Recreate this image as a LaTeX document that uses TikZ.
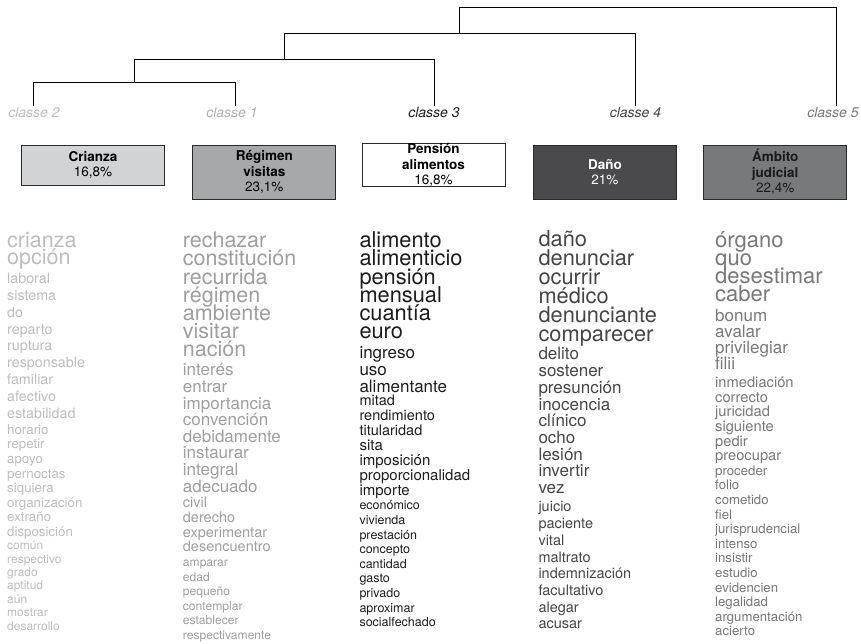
\documentclass[tikz,border=0pt]{standalone}
\usepackage{fontspec}
\setmainfont{TeX Gyre Heros}
\definecolor{colA}{HTML}{BDBDBD}
\definecolor{colB}{HTML}{9E9E9E}
\definecolor{colC}{HTML}{1C1C1C}
\definecolor{colD}{HTML}{454545}
\definecolor{colE}{HTML}{787878}
\definecolor{fillA}{HTML}{D2D3D5}
\definecolor{fillB}{HTML}{A7A8AA}
\definecolor{fillD}{HTML}{4A4A4C}
\definecolor{fillE}{HTML}{78797B}
\definecolor{edge}{HTML}{2A2A2A}
\newcommand\wgroup[7]{%
  \foreach \w [count=\i] in {#7}
    \node[word, text=#6, font=\fontsize{#5}{#5}\selectfont] (#1-\i) at (#2, {#3+(\i-1)*#4}) {\w};}
\begin{document}
\begin{tikzpicture}[x=1pt,y=-1pt,
  word/.style={anchor=mid west, inner sep=0pt},
  tree/.style={line width=1pt, black},
  clabel/.style={font=\fontsize{14}{14}\selectfont\itshape, anchor=mid, inner sep=0pt},
  catbox/.style={draw=edge, line width=0.9pt, minimum width=143pt, align=center,
    font=\fontsize{13.5}{15.5}\selectfont, inner sep=0pt}]
\useasboundingbox (0,0) rectangle (861,644);
% dendrogram
\coordinate (k2) at (33,106);
\coordinate (k1) at (235,106);
\coordinate (k3) at (434,106);
\coordinate (k4) at (635,106);
\coordinate (k5) at (836,106);
\coordinate (s1) at (134,82.7);
\coordinate (s2) at (284,59.3);
\coordinate (s3) at (459.5,33.3);
\coordinate (s4) at (459.5,7.3);
\draw[tree] (k2) -- (33,82.7) -- (235,82.7) -- (k1);
\draw[tree] (s1) -- (134,59.3) -- (434,59.3) -- (k3);
\draw[tree] (s2) -- (284,33.3) -- (635,33.3) -- (k4);
\draw[tree] (s3) -- (s4) -- (836,7.3) -- (k5);
\node[clabel, text=colA] (cl2) at (34,115) {classe 2};
\node[clabel, text=colB!80] (cl1) at (232,115) {classe 1};
\node[clabel, text=colC] (cl3) at (434,115) {classe 3};
\node[clabel, text=colD] (cl4) at (635.5,115) {classe 4};
\node[clabel, text=colE] (cl5) at (833,115) {classe 5};
% boxes
\node[catbox, fill=fillA, minimum height=40pt, text=black] (bx2) at (92.9,165) {{\bfseries Crianza}\\16,8\%};
\node[catbox, fill=fillB, minimum height=54pt, text=black] (bx1) at (264.3,172) {{\bfseries Régimen}\\{\bfseries visitas}\\23,1\%};
\node[catbox, fill=white, minimum height=40pt, text=black] (bx3) at (433.5,165) {{\bfseries Pensión}\\{\bfseries alimentos}\\16,8\%};
\node[catbox, fill=fillD, minimum height=54pt, text=white] (bx4) at (604.9,172) {{\bfseries Daño}\\21\%};
\node[catbox, fill=fillE, minimum height=54pt, text=black!90] (bx5) at (775.2,172) {{\bfseries Ámbito}\\{\bfseries judicial}\\22,4\%};
% column 1
\wgroup{aA}{7}{245}{16.7}{21.5}{colA}{crianza,opción}
\wgroup{aB}{7}{280.7}{16.9}{14.3}{colA}{laboral,sistema,do,reparto,ruptura,responsable,familiar,afectivo,estabilidad}
\wgroup{aC}{7}{431.7}{14.6}{13.3}{colA}{horario,repetir,apoyo,pernoctas,siquiera,organización,extraño,disposición}
\wgroup{aD}{7}{547}{13.45}{12}{colA}{común,respectivo,grado,aptitud,aún,mostrar,desarrollo}
% column 2
\wgroup{bA}{182.7}{245}{18.2}{21.5}{colB}{rechazar,constitución,recurrida,régimen,ambiente,visitar,nación}
\wgroup{bB}{182.7}{373.3}{16.6}{17}{colB}{interés,entrar,importancia,convención,debidamente,instaurar,integral,adecuado}
\wgroup{bC}{182.7}{505}{14.7}{14.5}{colB}{civil,derecho,experimentar,desencuentro}
\wgroup{bD}{182.7}{564}{14.5}{12.1}{colB}{amparar,edad,pequeño,contemplar,establecer,respectivamente}
% column 3
\wgroup{cA}{359.3}{245}{18.2}{21.8}{colC}{alimento,alimenticio,pensión,mensual,cuantía,euro}
\wgroup{cB}{359.3}{356}{17}{17}{colC}{ingreso,uso,alimentante}
\wgroup{cC}{359.3}{403.3}{14.7}{14.5}{colC}{mitad,rendimiento,titularidad}
\wgroup{cD}{359.3}{448.3}{14.8}{15}{colC}{sita,imposición,proporcionalidad,importe}
\wgroup{cE}{359.3}{507.3}{14.6}{12.5}{colC}{económico,vivienda,prestación,concepto,cantidad,gasto,privado,aproximar,socialfechado}
% column 4
\wgroup{dA}{538.3}{244}{18.9}{21.8}{colD}{daño,denunciar,ocurrir,médico,denunciante,comparecer}
\wgroup{dB}{538.3}{357.3}{16.7}{17}{colD}{delito,sostener,presunción,inocencia,clínico,ocho,lesión,invertir,vez}
\wgroup{dC}{538.3}{509.3}{16.7}{14.5}{colD}{juicio,paciente,vital,maltrato,indemnización,facultativo,alegar,acusar}
% column 5
\wgroup{eA}{715}{245}{18.1}{22}{colE}{órgano,quo,desestimar,caber}
\wgroup{eB}{715}{319.3}{16}{17}{colE}{bonum,avalar,privilegiar,filii}
\wgroup{eC}{715}{385}{14.66}{14.7}{colE}{inmediación,correcto,juricidad,siguiente,pedir,preocupar}
\wgroup{eD}{715}{472.7}{14.6}{13.2}{colE}{proceder,folio,cometido,fiel,jurisprudencial,intenso,insistir,estudio,evidencien,legalidad,argumentación,acierto}
\end{tikzpicture}
\end{document}
